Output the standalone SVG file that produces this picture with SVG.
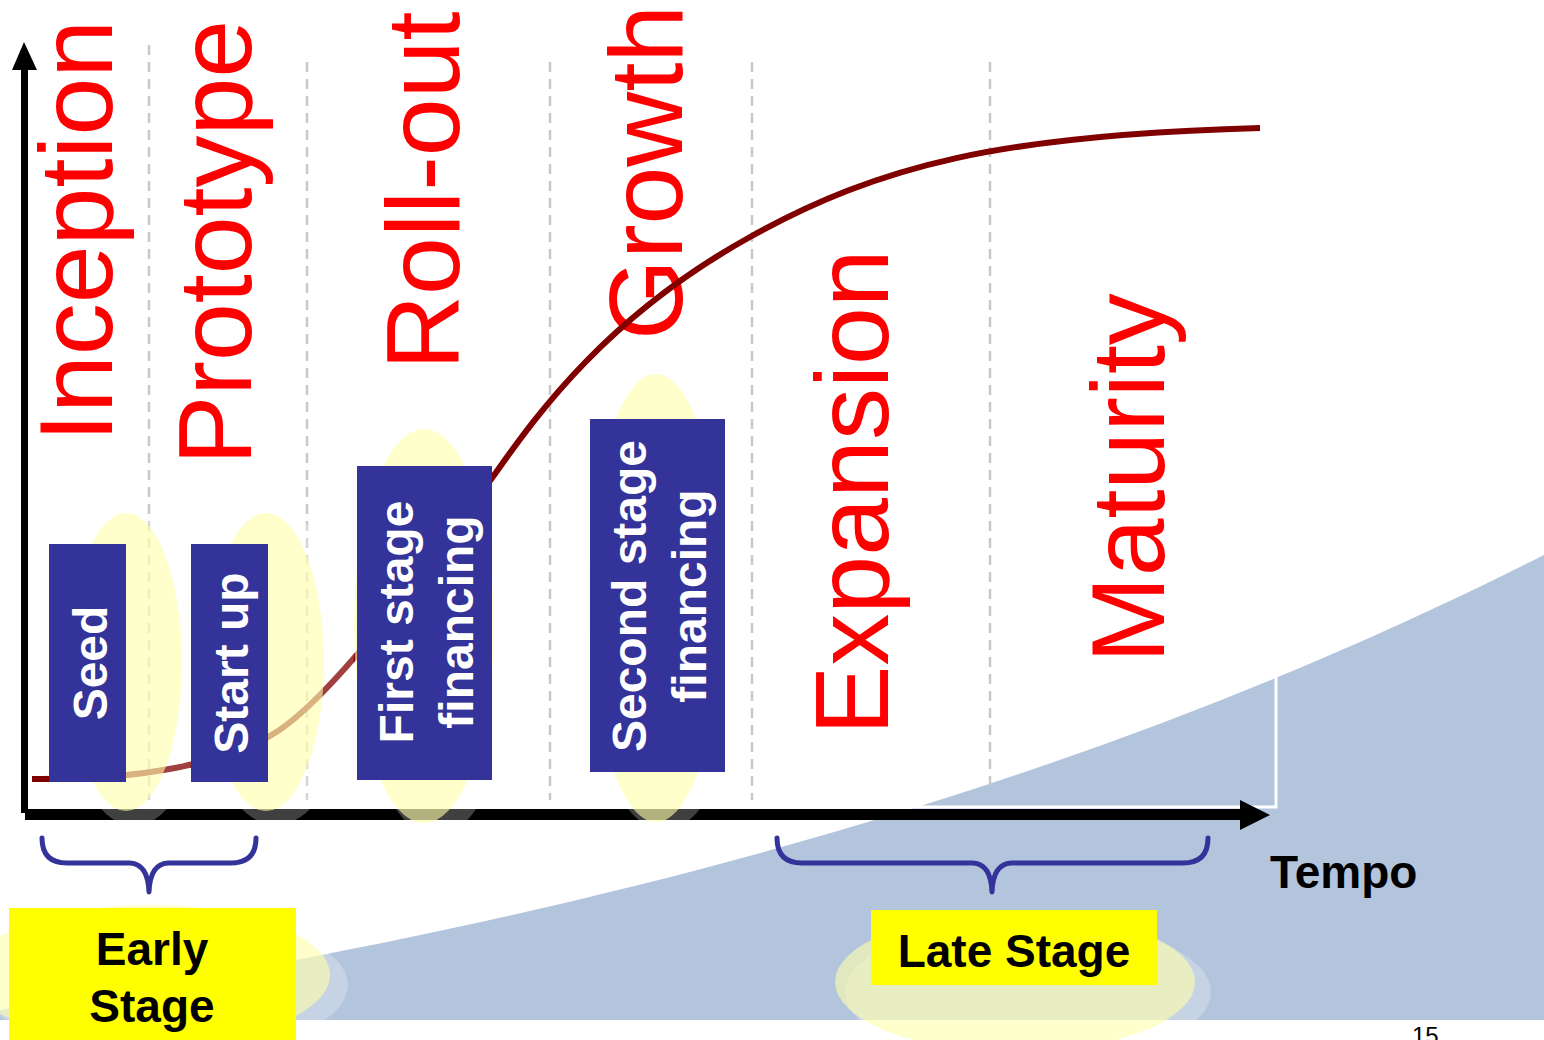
<svg xmlns="http://www.w3.org/2000/svg" width="1544" height="1040" viewBox="0 0 1544 1040">
<defs>
<style>
.phase{font-family:"Liberation Sans",Arial,sans-serif;font-size:104px;fill:#FF0000}
.boxlbl{font-family:"Liberation Sans",Arial,sans-serif;font-size:48px;font-weight:bold;fill:#FFFFFF;text-anchor:middle}
.stage{font-family:"Liberation Sans",Arial,sans-serif;font-size:46px;font-weight:bold;fill:#000000}
.box{fill:#333399}
.glow{fill:#FFFFAA;fill-opacity:0.6}
.halo{fill:#FFFFFF;fill-opacity:0.25}
.grid{stroke:#C8C8C8;stroke-width:2.5;stroke-dasharray:10 7;fill:none}
.brace{fill:none;stroke:#333399;stroke-width:5;stroke-linecap:round;stroke-linejoin:round}
.hl{fill:#FFFF00}
</style>
</defs>

<!-- background -->
<rect x="0" y="0" width="1544" height="1040" fill="#FFFFFF"/>
<path d="M0 1010 C600 920 1100 780 1544 555 L1544 1020 L0 1020 Z" fill="#B3C4DD"/>

<!-- plot frame -->
<path d="M28 807 H1276 V40" fill="none" stroke="#FFFFFF" stroke-width="3"/>

<!-- phase separators -->
<g id="separators">
<line class="grid" x1="149" y1="45" x2="149" y2="800"/>
<line class="grid" x1="307" y1="62" x2="307" y2="800"/>
<line class="grid" x1="550" y1="62" x2="550" y2="800"/>
<line class="grid" x1="752" y1="62" x2="752" y2="800"/>
<line class="grid" x1="990" y1="62" x2="990" y2="786"/>
</g>

<!-- phase names -->
<g id="phases">
<text class="phase" transform="translate(112 442) rotate(-90)">Inception</text>
<text class="phase" transform="translate(251 465) rotate(-90)">Prototype</text>
<text class="phase" transform="translate(459 370) rotate(-90)">Roll-out</text>
<text class="phase" transform="translate(682 340) rotate(-90)">Growth</text>
<text class="phase" transform="translate(888 735) rotate(-90)">Expansion</text>
<text class="phase" transform="translate(1164 663) rotate(-90)">Maturity</text>
</g>

<!-- growth curve -->
<g id="connectors">
<path d="M32 779 C150 780 220 762 268 737 C330 705 440 550 492 478 C530 425 600 320 750 237 C880 165 1000 135 1260 128" fill="none" stroke="#800000" stroke-width="6"/>
</g>

<!-- axes -->
<g id="axes">
<line x1="24.5" y1="65" x2="24.5" y2="813" stroke="#000000" stroke-width="7"/>
<polygon points="24,42 12,70 37,70" fill="#000000"/>
<line x1="25" y1="814.5" x2="1242" y2="814.5" stroke="#000000" stroke-width="11"/>
<polygon points="1240,800 1270,815 1240,830" fill="#000000"/>
</g>

<!-- financing rounds -->
<g id="seed">
<ellipse class="halo" cx="134" cy="670" rx="72" ry="156"/>
<ellipse class="glow" cx="126" cy="662" rx="56" ry="149"/>
<rect class="box" x="49" y="544" width="77" height="238"/>
<text class="boxlbl" transform="translate(107 663) rotate(-90)">Seed</text>
</g>
<g id="startup">
<ellipse class="halo" cx="276" cy="668" rx="78" ry="157"/>
<ellipse class="glow" cx="266" cy="662" rx="58" ry="149"/>
<rect class="box" x="191" y="544" width="77" height="238"/>
<text class="boxlbl" transform="translate(248 663) rotate(-90)">Start up</text>
</g>
<g id="first-stage">
<ellipse class="halo" cx="436" cy="636" rx="80" ry="200"/>
<ellipse class="glow" cx="424" cy="626" rx="70" ry="197"/>
<rect class="box" x="357" y="466" width="135" height="314"/>
<text class="boxlbl" transform="translate(413 622) rotate(-90)">First stage</text>
<text class="boxlbl" transform="translate(473 622) rotate(-90)">financing</text>
</g>
<g id="second-stage">
<ellipse class="halo" cx="664" cy="606" rx="85" ry="224"/>
<ellipse class="glow" cx="656" cy="598" rx="67" ry="224"/>
<rect class="box" x="590" y="419" width="135" height="353"/>
<text class="boxlbl" transform="translate(646 596) rotate(-90)">Second stage</text>
<text class="boxlbl" transform="translate(706 596) rotate(-90)">financing</text>
</g>

<!-- stage groupings -->
<g id="early-stage">
<path class="brace" d="M42 838 Q42 863 67 863 L130 863 Q148 864 149 892 Q150 864 168 863 L231 863 Q256 863 256 838"/>
<ellipse class="halo" cx="165" cy="985" rx="183" ry="72"/>
<ellipse class="glow" cx="150" cy="975" rx="180" ry="70"/>
<rect class="hl" x="9" y="908" width="287" height="132"/>
<text class="stage" x="152" y="965" text-anchor="middle">Early</text>
<text class="stage" x="152" y="1022" text-anchor="middle">Stage</text>
</g>
<g id="late-stage">
<path class="brace" d="M777 838 Q777 863 802 863 L973 863 Q991 864 992 892 Q993 864 1011 863 L1183 863 Q1208 863 1208 838"/>
<ellipse class="halo" cx="1028" cy="992" rx="183" ry="72"/>
<ellipse class="glow" cx="1015" cy="982" rx="180" ry="70"/>
<rect class="hl" x="871" y="910" width="286" height="75"/>
<text class="stage" x="1014" y="967" text-anchor="middle">Late Stage</text>
</g>

<!-- axis label and page number -->
<text class="stage" x="1270" y="888">Tempo</text>
<text x="1412" y="1044" font-family="Liberation Sans, Arial, sans-serif" font-size="24" fill="#000000">15</text>
</svg>
